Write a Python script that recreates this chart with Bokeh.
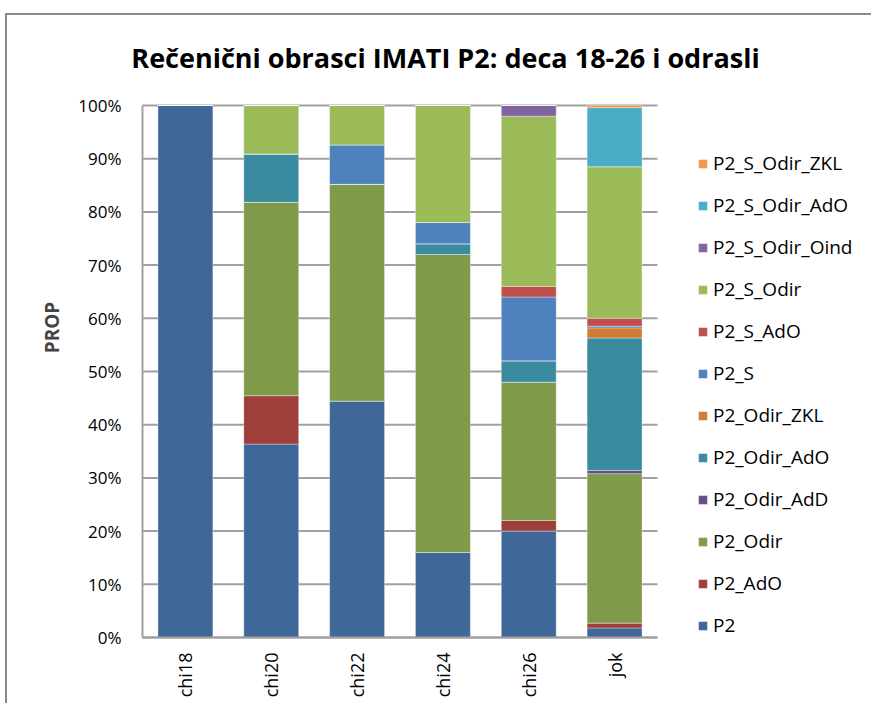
from bokeh.plotting import figure
from bokeh.models import (FixedTicker, Legend, LegendItem, Label, ColumnDataSource,
                          Range1d, PrintfTickFormatter)
from bokeh.embed import file_html
from bokeh.resources import INLINE
import math

# ---- data ----
categories = ["chi18", "chi20", "chi22", "chi24", "chi26", "jok"]
series = ["P2", "P2_AdO", "P2_Odir", "P2_Odir_AdD", "P2_Odir_AdO", "P2_Odir_ZKL",
          "P2_S", "P2_S_AdO", "P2_S_Odir", "P2_S_Odir_Oind", "P2_S_Odir_AdO", "P2_S_Odir_ZKL"]
P2 =             [100.0, 36.36, 44.44, 16.0, 20.0, 1.8]
P2_AdO =         [0.0,   9.09,  0.0,   0.0,  2.0,  0.9]
P2_Odir =        [0.0,  36.36, 40.74, 56.0, 26.0, 28.1]
P2_Odir_AdD =    [0.0,   0.0,   0.0,   0.0,  0.0,  0.6]
P2_Odir_AdO =    [0.0,   9.09,  0.0,   2.0,  4.0, 24.9]
P2_Odir_ZKL =    [0.0,   0.0,   0.0,   0.0,  0.0,  1.9]
P2_S =           [0.0,   0.0,   7.41,  4.0, 12.0,  0.3]
P2_S_AdO =       [0.0,   0.0,   0.0,   0.0,  2.0,  1.5]
P2_S_Odir =      [0.0,   9.09,  7.41, 22.0, 32.0, 28.5]
P2_S_Odir_Oind = [0.0,   0.0,   0.0,   0.0,  2.0,  0.0]
P2_S_Odir_AdO =  [0.0,   0.0,   0.0,   0.0,  0.0, 11.1]
P2_S_Odir_ZKL =  [0.0,   0.0,   0.0,   0.0,  0.0,  0.4]
y_ticks = [0, 10, 20, 30, 40, 50, 60, 70, 80, 90, 100]
title_text = "Rečenični obrasci IMATI P2: deca 18-26 i odrasli"

values = [P2, P2_AdO, P2_Odir, P2_Odir_AdD, P2_Odir_AdO, P2_Odir_ZKL,
          P2_S, P2_S_AdO, P2_S_Odir, P2_S_Odir_Oind, P2_S_Odir_AdO, P2_S_Odir_ZKL]
colors = ["#3F6899", "#9F3F3C", "#7F9A48", "#684E87", "#3A8BA0", "#D07C34",
          "#4F81BD", "#C0504D", "#9BBB59", "#8064A2", "#4BACC6", "#F79646"]

FONT = "Open Sans"
GRID = "#a0a0a0"

n = len(categories)
# pixel geometry of the plot area (frame extends left/right/up to hold title and legend)
PX_X = 515.0 / n      # px per category
PX_Y = 532.0 / 100.0  # px per percent
x_start = -14.0 / PX_X
y_start = -2.0 / PX_Y
FRAME_W, FRAME_H = 745, 624

data = {"x": [i + 0.5 for i in range(n)]}
for name, vals in zip(series, values):
    data[name] = vals
source = ColumnDataSource(data)

p = figure(width=866, height=690, output_backend="svg", toolbar_location=None,
           x_range=Range1d(x_start, x_start + FRAME_W / PX_X),
           y_range=Range1d(y_start, y_start + FRAME_H / PX_Y),
           min_border_left=121, min_border_right=0, min_border_top=0, min_border_bottom=66)
p.margin = (13, 0, 0, 5)
p.styles = {"border-left": "2px solid #8a8a8a", "border-top": "2px solid #8a8a8a"}
p.outline_line_color = None
p.background_fill_color = "white"
p.border_fill_color = "white"
p.xgrid.grid_line_color = None
p.ygrid.grid_line_color = None

# gridlines and axis lines limited to the plot area
p.segment(x0=[0] * len(y_ticks), x1=[n] * len(y_ticks), y0=y_ticks, y1=y_ticks,
          line_color=GRID, line_width=2)
p.segment(x0=[0], x1=[0], y0=[0], y1=[y_ticks[-1]], line_color=GRID, line_width=2)

renderers = p.vbar_stack(series, x="x", width=0.64, source=source, color=colors,
                         line_color="white", line_alpha=0.35, line_width=1)

p.segment(x0=[0], x1=[n], y0=[0], y1=[0], line_color=GRID, line_width=2)

# axes
p.xaxis.ticker = FixedTicker(ticks=data["x"])
p.xaxis.major_label_overrides = {x: c for x, c in zip(data["x"], categories)}
p.xaxis.major_label_orientation = math.pi / 2
p.xaxis.major_tick_line_color = None
p.xaxis.minor_tick_line_color = None
p.xaxis.axis_line_color = None
p.xaxis.major_label_standoff = 7
p.xaxis.major_label_text_font = FONT
p.xaxis.major_label_text_font_size = "18px"
p.xaxis.major_label_text_color = "black"

p.yaxis.ticker = FixedTicker(ticks=y_ticks)
p.yaxis.formatter = PrintfTickFormatter(format="%d%%")
p.yaxis.major_tick_line_color = None
p.yaxis.minor_tick_line_color = None
p.yaxis.axis_line_color = None
p.yaxis.major_label_standoff = 1
p.yaxis.major_label_text_font = FONT
p.yaxis.major_label_text_font_size = "17px"
p.yaxis.major_label_text_color = "black"
p.yaxis.axis_label = "PROP"
p.yaxis.axis_label_text_font = FONT
p.yaxis.axis_label_text_font_style = "bold"
p.yaxis.axis_label_text_font_size = "19px"
p.yaxis.axis_label_standoff = 10

# title
title = Label(x=(445 - 142) / PX_X, y=(637 - 57) / PX_Y, text=title_text,
              text_align="center", text_baseline="middle",
              text_font=FONT, text_font_style="bold", text_font_size="27px",
              text_color="black")
p.add_layout(title)

# legend (reverse order: top = last series)
items = [LegendItem(label=s, renderers=[r]) for s, r in zip(series, renderers)][::-1]
legend = Legend(items=items, location=(569, 1), orientation="vertical")
legend.border_line_color = None
legend.background_fill_alpha = 0
legend.padding = 0
legend.margin = 0
legend.glyph_width = 11
legend.glyph_height = 11
legend.label_height = 11
legend.spacing = 16
legend.label_standoff = 5
legend.label_text_font = FONT
legend.label_text_font_size = "19px"
legend.label_text_color = "black"
p.add_layout(legend, "center")

open("out.html", "w").write(file_html(p, INLINE))
